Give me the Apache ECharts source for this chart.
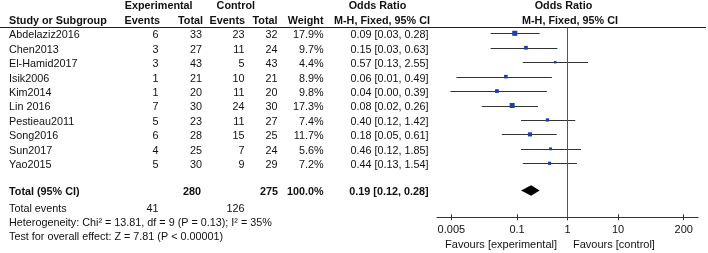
<!DOCTYPE html>
<html><head><meta charset="utf-8">
<script src="https://cdn.jsdelivr.net/npm/echarts@6/dist/echarts.min.js"></script>
<style>html,body{margin:0;padding:0;background:#fff}#c{width:708px;height:253px}</style>
</head><body><div id="c"></div>
<script>
const studies = ["Abdelaziz2016","Chen2013","El-Hamid2017","Isik2006","Kim2014","Lin 2016","Pestieau2011","Song2016","Sun2017","Yao2015"];
const expEvents = [6,3,3,1,1,7,5,6,4,5];
const expTotal = [33,27,43,21,20,30,23,28,25,30];
const ctrlEvents = [23,11,5,10,11,24,11,15,7,9];
const ctrlTotal = [32,24,43,21,20,30,27,25,24,29];
const weights = [17.9,9.7,4.4,8.9,9.8,17.3,7.4,11.7,5.6,7.2];
const oddsRatio = [0.09,0.15,0.57,0.06,0.04,0.08,0.40,0.18,0.46,0.44];
const ciLow = [0.03,0.03,0.13,0.0063,0.0048,0.02,0.12,0.05,0.12,0.13];
const ciHigh = [0.28,0.63,2.55,0.49,0.39,0.26,1.42,0.61,1.85,1.54];
const totalOR = [0.12,0.19,0.28]; // low, est, high
const totalExp = 280, totalCtrl = 275, totalWeight = "100.0%";
const totalEventsExp = 41, totalEventsCtrl = 126;
const heterogeneity = "Heterogeneity: Chi\u00b2 = 13.81, df = 9 (P = 0.13); I\u00b2 = 35%";
const overallTest = "Test for overall effect: Z = 7.81 (P < 0.00001)";
const tickValues = [0.005,0.1,1,10,200];
const totalRow = 10.88;

const chart = echarts.init(document.getElementById('c'), null, {renderer:'canvas'});
const FONT = '"Liberation Sans", Arial, sans-serif';
const FS = 10.8;
const LINE = '#333';
const GRID_H = 189.6;

const option = {
  animation:false,
  grid:{left:437, top:27.7, width:261.1, height:GRID_H, containLabel:false},
  xAxis:[
    {type:'log', logBase:10, min:1/385, max:385, position:'bottom',
     axisLine:{show:true, onZero:false, lineStyle:{color:LINE, width:1}},
     axisTick:{show:true, inside:false, length:3, customValues:tickValues, lineStyle:{color:LINE}},
     axisLabel:{show:true, customValues:tickValues, margin:7, fontSize:11, fontFamily:FONT, color:'#111',
       formatter:v=>String(+(+v).toPrecision(6))},
     splitLine:{show:false}, minorTick:{show:false}},
    {type:'log', logBase:10, min:1/385, max:385, position:'top', offset:-GRID_H,
     axisLine:{show:false, onZero:false},
     axisTick:{show:true, inside:false, length:3, customValues:tickValues, lineStyle:{color:LINE}},
     axisLabel:{show:false}, splitLine:{show:false}, minorTick:{show:false}}
  ],
  yAxis:{type:'value', inverse:true, min:-0.388, max:12.74, show:false},
  series:[
    {type:'custom', xAxisIndex:0,
     data: studies.map((s,i)=>[ciLow[i], ciHigh[i], i]),
     encode:{x:[0,1], y:2},
     renderItem:(params, api)=>{
       const a = api.coord([api.value(0), api.value(2)]);
       const b = api.coord([api.value(1), api.value(2)]);
       const y = Math.round(a[1]) + 0.5;
       return {type:'line', shape:{x1:a[0], y1:y, x2:b[0], y2:y}, style:{stroke:LINE, lineWidth:1}};
     }},
    {type:'scatter', xAxisIndex:0, symbol:'rect',
     data: studies.map((s,i)=>[oddsRatio[i], i, weights[i]]),
     symbolSize: d=>Math.sqrt(d[2])*1.2,
     itemStyle:{color:'#1c3fa8', opacity:1},
     markLine:{silent:true, symbol:'none', label:{show:false},
       lineStyle:{color:'#555', type:'solid', width:1}, data:[{xAxis:1}]}},
    {type:'custom', xAxisIndex:0,
     data:[[totalOR[0], totalOR[1], totalOR[2], totalRow]],
     encode:{x:[0,1,2], y:3},
     renderItem:(params, api)=>{
       const l = api.coord([api.value(0), api.value(3)]);
       const c = api.coord([api.value(1), api.value(3)]);
       const r = api.coord([api.value(2), api.value(3)]);
       const h = 5.3;
       return {type:'polygon', shape:{points:[[l[0],c[1]],[c[0],c[1]-h],[r[0],c[1]],[c[0],c[1]+h]]},
         style:{fill:'#000'}};
     }}
  ]
};
chart.setOption(option);

const rowY = r => chart.convertToPixel({yAxisIndex:0}, r) + 2;
const g = [];
function txt(t, x, r, align, bold){
  g.push({type:'text', silent:true, style:{text:String(t), x:x, y:rowY(r), align:align, verticalAlign:'middle',
    font:(bold?'bold ':'')+FS+'px '+FONT, fill:'#111'}});
}
// headers
txt('Experimental', 158.7, -2, 'center', true);
txt('Control', 235.8, -2, 'center', true);
txt('Odds Ratio', 377.5, -2, 'center', true);
txt('Odds Ratio', 563.5, -2, 'center', true);
txt('Study or Subgroup', 9, -1, 'left', true);
txt('Events', 160, -1, 'right', true);
txt('Total', 203, -1, 'right', true);
txt('Events', 245, -1, 'right', true);
txt('Total', 277.5, -1, 'right', true);
txt('Weight', 323.5, -1, 'right', true);
txt('M-H, Fixed, 95% CI', 430, -1, 'right', true);
txt('M-H, Fixed, 95% CI', 570, -1, 'center', true);
// rows
studies.forEach((s,i)=>{
  txt(s, 9, i, 'left');
  txt(expEvents[i], 158.5, i, 'right');
  txt(expTotal[i], 202, i, 'right');
  txt(ctrlEvents[i], 244.5, i, 'right');
  txt(ctrlTotal[i], 277.5, i, 'right');
  txt(weights[i].toFixed(1)+'%', 323.5, i, 'right');
  txt(oddsRatio[i].toFixed(2)+' ['+ciLow[i].toFixed(2)+', '+ciHigh[i].toFixed(2)+']', 428.5, i, 'right');
});
txt('Total (95% CI)', 9, totalRow, 'left', true);
txt(totalExp, 201, totalRow, 'right', true);
txt(totalCtrl, 278, totalRow, 'right', true);
txt(totalWeight, 323.5, totalRow, 'right', true);
txt(totalOR[1].toFixed(2)+' ['+totalOR[0].toFixed(2)+', '+totalOR[2].toFixed(2)+']', 428.5, totalRow, 'right', true);
txt('Total events', 9, 12, 'left');
txt(totalEventsExp, 158.5, 12, 'right');
txt(totalEventsCtrl, 244.5, 12, 'right');
txt(heterogeneity, 9, 13, 'left');
txt(overallTest, 9, 14, 'left');
g.push({type:'text', silent:true, style:{text:'Favours [experimental]', x:557, y:245, align:'right', verticalAlign:'middle', font:'11px '+FONT, fill:'#111'}});
g.push({type:'text', silent:true, style:{text:'Favours [control]', x:573, y:245, align:'left', verticalAlign:'middle', font:'11px '+FONT, fill:'#111'}});
g.push({type:'line', silent:true, shape:{x1:0, y1:27.5, x2:706, y2:27.5}, style:{stroke:'#222', lineWidth:1}});
chart.setOption({graphic:g});
</script></body></html>
